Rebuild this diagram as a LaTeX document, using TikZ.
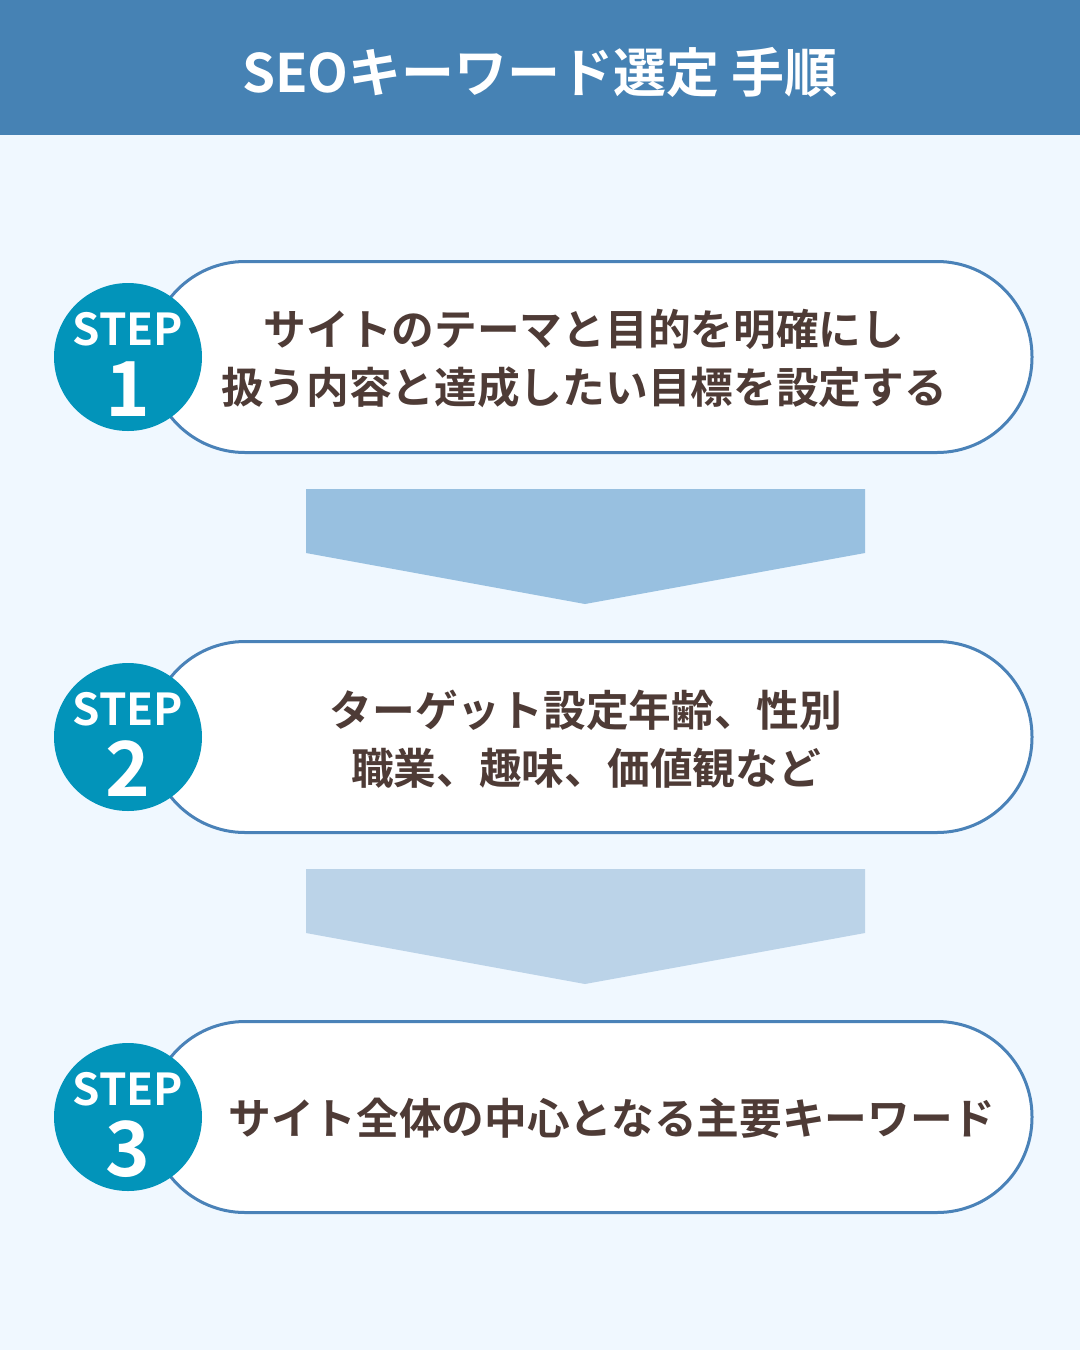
\documentclass[tikz,border=0pt]{standalone}
\usepackage{fontspec}
\setmainfont{Noto Sans CJK JP}[BoldFont={Noto Sans CJK JP Bold}]
\newfontfamily\jpbold{Noto Sans CJK JP Bold}
\definecolor{hdr}{RGB}{70,130,180}
\definecolor{bgc}{RGB}{240,248,255}
\definecolor{pillline}{RGB}{74,130,184}
\definecolor{circ}{RGB}{2,148,186}
\definecolor{txt}{RGB}{78,59,54}
\definecolor{arrA}{RGB}{152,192,224}
\definecolor{arrB}{RGB}{187,211,232}
\begin{document}
\begin{tikzpicture}[x=1pt,y=-1pt,
  pill/.style={draw=pillline,line width=3pt,fill=white,minimum width=882pt,minimum height=191pt,rounded corners=95pt,inner sep=0pt},
  stepcirc/.style={circle,fill=circ,minimum size=148pt,inner sep=0pt},
  steplabel/.style={text=white,font=\jpbold\fontsize{44}{44}\selectfont,inner sep=0pt},
  stepnum/.style={text=white,font=\jpbold\fontsize{76}{76}\selectfont,inner sep=0pt},
  body/.style={text=txt,font=\jpbold\fontsize{42.7}{58}\selectfont,align=center,inner sep=0pt}]
\useasboundingbox (0,0) rectangle (1080,1350);
\fill[bgc] (0,0) rectangle (1080,1350);
\fill[hdr] (0,0) rectangle (1080,135);
\node[text=white,font=\jpbold\fontsize{53}{53}\selectfont] (title) at (540,72) {SEOキーワード選定 手順};
% pills
\node[pill] (b1) at (591,357) {};
\node[pill] (b2) at (591,737) {};
\node[pill] (b3) at (591,1117) {};
% arrows
\fill[arrA] (306,489) -- (865,489) -- (865,553) -- (585,604) -- (306,553) -- cycle;
\fill[arrB] (306,869) -- (865,869) -- (865,933) -- (585,984) -- (306,933) -- cycle;
% circles
\node[stepcirc] (c1) at (128,357) {};
\node[stepcirc] (c2) at (128,737) {};
\node[stepcirc] (c3) at (128,1117) {};
\foreach \i/\y in {1/357,2/737,3/1117}{
  \node[steplabel] (s\i) at (128,\y-28) {STEP};
  \node[stepnum] (n\i) at (128,\y+32) {\i};
}
% texts
\node[body] (t1) at (584,359) {サイトのテーマと目的を明確にし\\扱う内容と達成したい目標を設定する};
\node[body] (t2) at (586,739) {ターゲット設定年齢、性別\\職業、趣味、価値観など};
\node[body] (t3) at (612,1118) {サイト全体の中心となる主要キーワード};
\end{tikzpicture}
\end{document}
